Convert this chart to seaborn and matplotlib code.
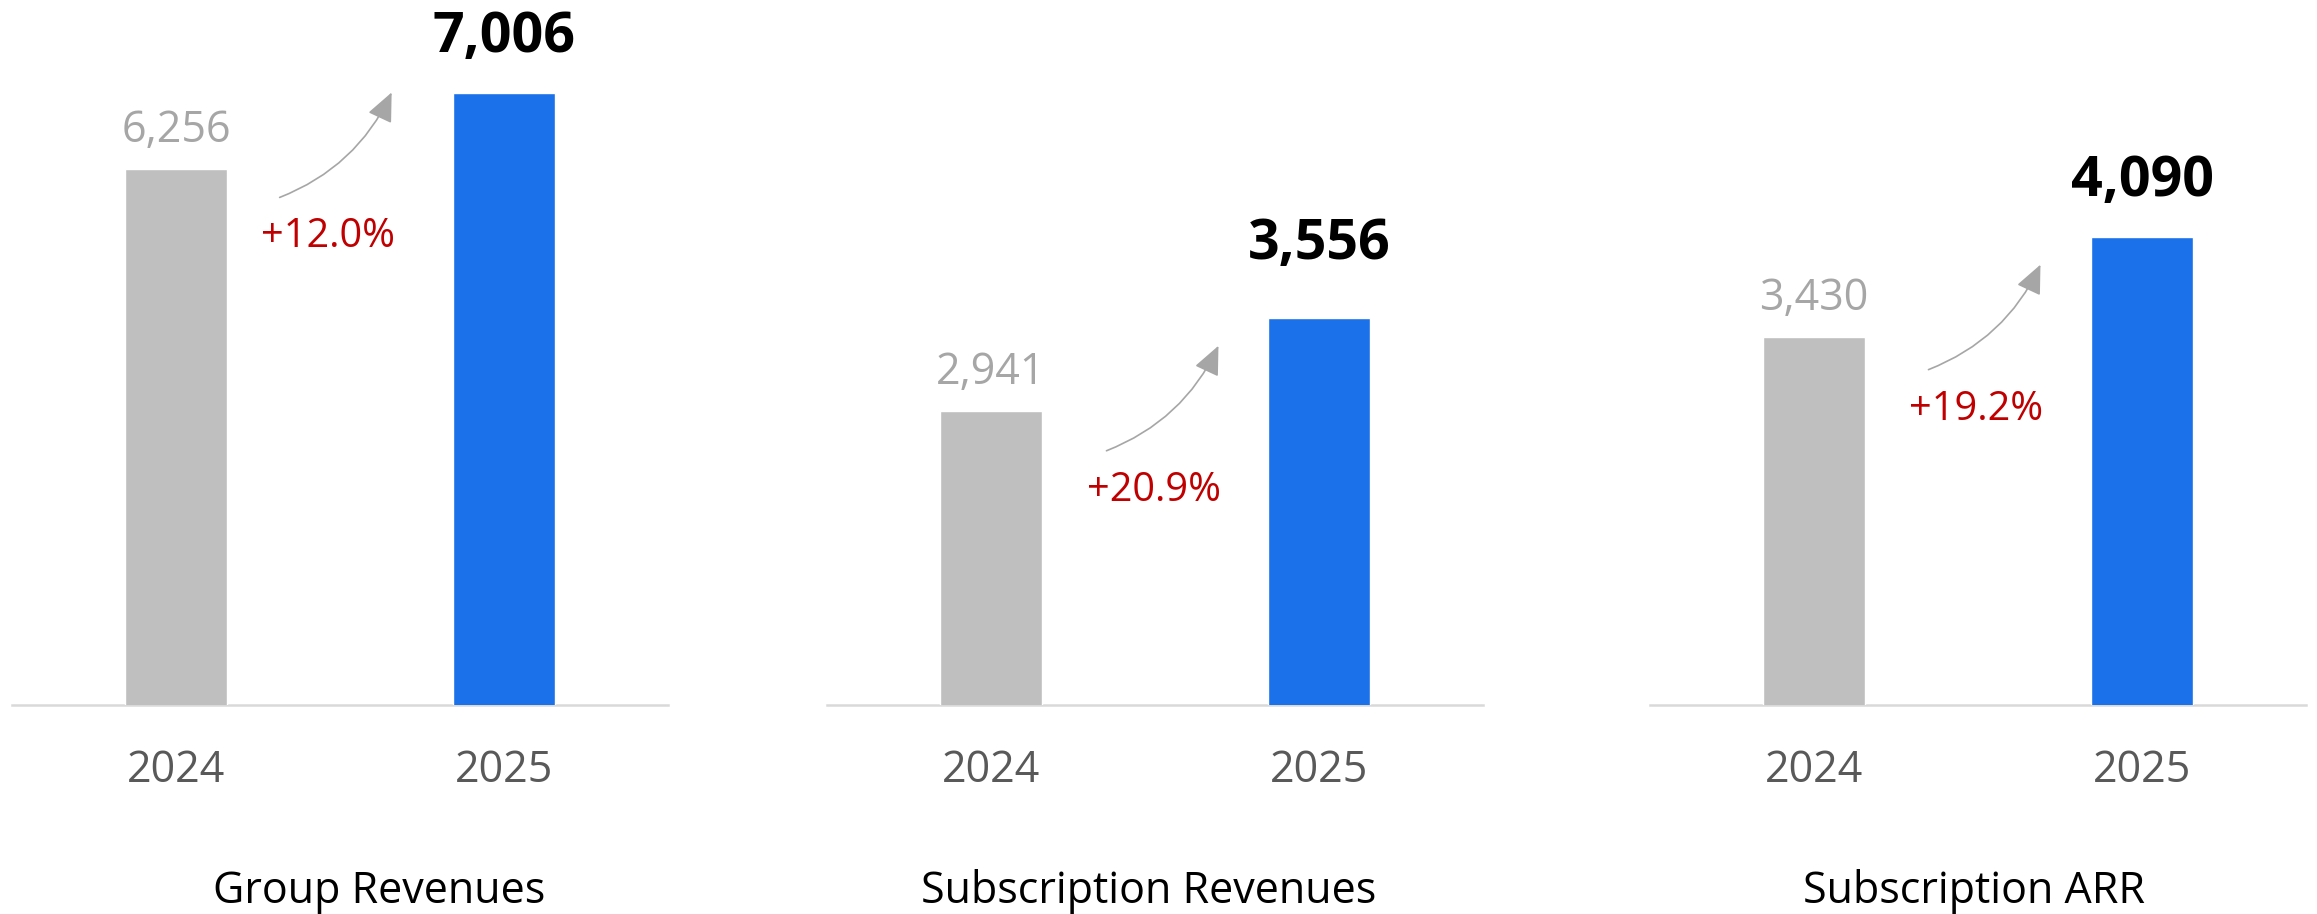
import matplotlib
matplotlib.use("Agg")
import matplotlib.pyplot as plt
import seaborn as sns
from matplotlib.transforms import offset_copy

# chart data
titles = ["Group Revenues", "Subscription Revenues", "Subscription ARR"]
years = ["2024", "2025"]
values_2024 = [6256, 2941, 3430]
values_2025 = [7006, 3556, 4090]
growth_labels = ["+12.0%", "+20.9%", "+19.2%"]

# colours
GRAY_BAR = "#bfbfbf"
BLUE_BAR = "#1a71ea"
GRAY_TEXT = "#a6a6a6"
YEAR_TEXT = "#595959"
RED_TEXT = "#c00000"
AXIS_LINE = "#d9d9d9"

# layout (pixels at dpi 100)
W, H = 2317, 914
panel_left = [12, 827, 1650]
panel_width = 656
panel_bottom = 209
panel_height = 640
y_limits = [(1000, 7281), (1000, 5222), (1000, 5222)]
arrow_x = [0.316, 0.352, 0.349]
arrow_drop = [28, 40, 33]
blue_gap = [41, 59, 41]
title_dx = [39, -6, -4]

sns.set_theme(style="white")
plt.rcParams["font.family"] = ["Open Sans", "DejaVu Sans"]

fig = plt.figure(figsize=(W / 100, H / 100), dpi=100)

for i, title in enumerate(titles):
    ax = fig.add_axes([panel_left[i] / W, panel_bottom / H,
                       panel_width / W, panel_height / H])
    vals = [values_2024[i], values_2025[i]]
    sns.barplot(x=years, y=vals, hue=years, palette=[GRAY_BAR, BLUE_BAR],
                width=0.313, saturation=1, legend=False, ax=ax)
    ax.set_xlim(-0.5, 1.5)
    ax.set_ylim(*y_limits[i])

    for side in ["left", "right", "top"]:
        ax.spines[side].set_visible(False)
    ax.spines["bottom"].set_color(AXIS_LINE)
    ax.spines["bottom"].set_linewidth(1.8)
    ax.spines["bottom"].set_zorder(0)
    ax.set_yticks([])
    ax.set_ylabel("")
    ax.tick_params(axis="x", length=0, pad=77 / 1.389, labelsize=31,
                   labelcolor=YEAR_TEXT)
    plt.setp(ax.get_xticklabels(), va="baseline")

    # value labels
    ax.annotate(f"{vals[0]:,}", xy=(0, vals[0]), xytext=(0, 27),
                textcoords="offset pixels", ha="center", va="baseline",
                fontsize=31, color=GRAY_TEXT)
    ax.annotate(f"{vals[1]:,}", xy=(1, vals[1]), xytext=(0, blue_gap[i]),
                textcoords="offset pixels", ha="center", va="baseline",
                fontsize=40, fontweight="bold", color="black")

    # growth arrow and label
    start = offset_copy(ax.transData, fig=fig, x=0, y=-arrow_drop[i], units="dots")
    tip = offset_copy(ax.transData, fig=fig, x=112, y=105 - arrow_drop[i], units="dots")
    ax.annotate("", xy=(arrow_x[i], vals[0]), xycoords=tip,
                xytext=(arrow_x[i], vals[0]), textcoords=start,
                arrowprops=dict(arrowstyle="-|>,head_length=0.9,head_width=0.4",
                                mutation_scale=20, color=GRAY_TEXT, lw=1.2,
                                connectionstyle="arc3,rad=0.2",
                                shrinkA=0, shrinkB=0))
    lab = offset_copy(ax.transData, fig=fig, x=48, y=-arrow_drop[i] - 50, units="dots")
    ax.text(arrow_x[i], vals[0], growth_labels[i], transform=lab,
            ha="center", va="baseline", fontsize=28.5, color=RED_TEXT)

    # panel title
    ax.annotate(title, xy=(0.5, 0), xycoords="axes fraction",
                xytext=(title_dx[i], -198), textcoords="offset pixels",
                ha="center", va="baseline", fontsize=31, color="black")

fig.savefig("out.png", dpi=100)
plt.close(fig)
